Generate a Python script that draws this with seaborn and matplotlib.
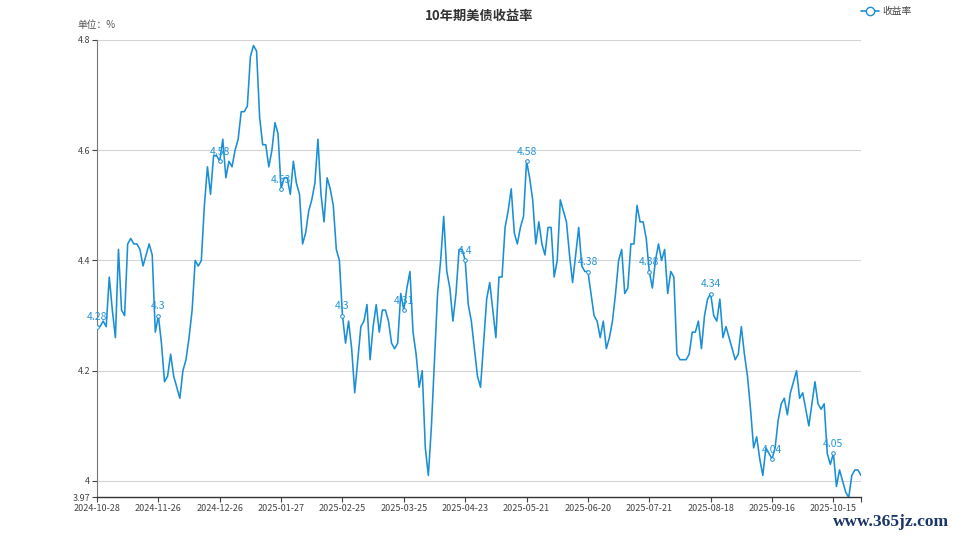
import numpy as np
import pandas as pd
import matplotlib
matplotlib.use('Agg')
import matplotlib.pyplot as plt
import seaborn as sns
from matplotlib.lines import Line2D

# 10y treasury yield, one value per trading day
yields = [
    4.28, 4.28, 4.29, 4.28, 4.37, 4.31, 4.26, 4.42, 4.31, 4.30, 4.43, 4.44, 4.43, 4.43, 4.42, 4.39, 4.41, 4.43, 4.41, 4.27,
    4.30, 4.25, 4.18, 4.19, 4.23, 4.19, 4.17, 4.15, 4.20, 4.22, 4.26, 4.31, 4.40, 4.39, 4.40, 4.50, 4.57, 4.52, 4.59, 4.59,
    4.58, 4.62, 4.55, 4.58, 4.57, 4.60, 4.62, 4.67, 4.67, 4.68, 4.77, 4.79, 4.78, 4.66, 4.61, 4.61, 4.57, 4.60, 4.65, 4.63,
    4.53, 4.55, 4.55, 4.52, 4.58, 4.54, 4.52, 4.43, 4.45, 4.49, 4.51, 4.54, 4.62, 4.52, 4.47, 4.55, 4.53, 4.50, 4.42, 4.40,
    4.30, 4.25, 4.29, 4.24, 4.16, 4.22, 4.28, 4.29, 4.32, 4.22, 4.28, 4.32, 4.27, 4.31, 4.31, 4.29, 4.25, 4.24, 4.25, 4.34,
    4.31, 4.35, 4.38, 4.27, 4.23, 4.17, 4.20, 4.06, 4.01, 4.10, 4.22, 4.34, 4.40, 4.48, 4.38, 4.35, 4.29, 4.34, 4.42, 4.42,
    4.40, 4.32, 4.29, 4.24, 4.19, 4.17, 4.25, 4.33, 4.36, 4.31, 4.26, 4.37, 4.37, 4.46, 4.49, 4.53, 4.45, 4.43, 4.46, 4.48,
    4.58, 4.55, 4.51, 4.43, 4.47, 4.43, 4.41, 4.46, 4.46, 4.37, 4.40, 4.51, 4.49, 4.47, 4.41, 4.36, 4.41, 4.46, 4.39, 4.38,
    4.38, 4.34, 4.30, 4.29, 4.26, 4.29, 4.24, 4.26, 4.29, 4.34, 4.40, 4.42, 4.34, 4.35, 4.43, 4.43, 4.50, 4.47, 4.47, 4.44,
    4.38, 4.35, 4.40, 4.43, 4.40, 4.42, 4.34, 4.38, 4.37, 4.23, 4.22, 4.22, 4.22, 4.23, 4.27, 4.27, 4.29, 4.24, 4.30, 4.33,
    4.34, 4.30, 4.29, 4.33, 4.26, 4.28, 4.26, 4.24, 4.22, 4.23, 4.28, 4.23, 4.19, 4.13, 4.06, 4.08, 4.04, 4.01, 4.06, 4.05,
    4.04, 4.06, 4.11, 4.14, 4.15, 4.12, 4.16, 4.18, 4.20, 4.15, 4.16, 4.13, 4.10, 4.14, 4.18, 4.14, 4.13, 4.14, 4.05, 4.03,
    4.05, 3.99, 4.02, 4.00, 3.98, 3.97, 4.01, 4.02, 4.02, 4.01,
]
date_labels = ['2024-10-28', '2024-11-26', '2024-12-26', '2025-01-27', '2025-02-25', '2025-03-25',
               '2025-04-23', '2025-05-21', '2025-06-20', '2025-07-21', '2025-08-18', '2025-09-16', '2025-10-15']
y_ticks = [3.97, 4.0, 4.2, 4.4, 4.6, 4.8]
y_labels = ['3.97', '4', '4.2', '4.4', '4.6', '4.8']

blue = '#1a8fd6'
step = 20
n = len(yields)
df = pd.DataFrame({'idx': np.arange(n), 'rate': yields})

sns.set_theme(style='white')
plt.rcParams['font.family'] = ['Noto Sans CJK SC', 'DejaVu Sans']

fig = plt.figure(figsize=(9.58, 5.39), dpi=100)
ax = fig.add_axes([0.10125, 0.077, 0.7975, 0.8488])

sns.lineplot(data=df, x='idx', y='rate', ax=ax, color=blue, linewidth=1.15)

# labels + hollow markers every 20th point
lab = df.iloc[::step]
ax.plot(lab['idx'], lab['rate'], 'o', ms=2.6, mfc='white', mec=blue, mew=0.7, zorder=3)
for i, v in zip(lab['idx'], lab['rate']):
    ax.annotate(f'{v:g}', (i, v), xytext=(0, 3), textcoords='offset points',
                ha='center', va='bottom', fontsize=7.5, color='#2696da')

ax.set_xlim(0, n - 1)
ax.set_ylim(3.97, 4.8)
ax.set_xticks(list(range(0, n, step)) + [n - 1])
ax.set_xticklabels(date_labels + [''])
ax.set_yticks(y_ticks)
ax.set_yticklabels(y_labels)
ax.tick_params(axis='both', labelsize=6.5, colors='#444444', length=3.5, width=0.8,
               direction='out', bottom=True, left=True, pad=1.5)
for t in [4.0, 4.2, 4.4, 4.6, 4.8]:
    ax.axhline(t, color='#d4d4d4', lw=0.8, zorder=0)
ax.set_xlabel('')
ax.set_ylabel('')
for s in ['top', 'right']:
    ax.spines[s].set_visible(False)
ax.spines['left'].set_color('#777777')
ax.spines['left'].set_linewidth(0.8)
ax.spines['bottom'].set_color('#333333')
ax.spines['bottom'].set_linewidth(1.0)

fig.text(0.5, 0.983, '10年期美债收益率', ha='center', va='top', fontsize=9.5,
         fontweight='bold', color='#333333')
fig.text(0.081, 0.953, '单位：%', ha='left', va='center', fontsize=7, color='#555555')

handle = Line2D([], [], color=blue, lw=1.2, marker='o', ms=6, mfc='white', mec=blue, mew=1.0)
fig.legend([handle], ['收益率'], loc='center left', bbox_to_anchor=(0.89, 0.979),
           frameon=False, fontsize=7, handlelength=1.8, handletextpad=0.4, labelcolor='#444444')

fig.text(0.991, 0.032, 'www.365jz.com', ha='right', va='center', fontsize=12.5,
         color='#1b3566', fontweight='bold', family=['Liberation Serif', 'DejaVu Serif'])

fig.savefig('out.png', dpi=100)
